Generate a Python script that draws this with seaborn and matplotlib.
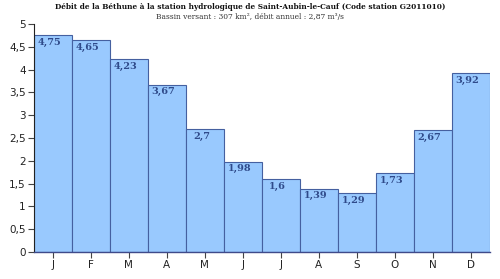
import matplotlib
matplotlib.use("Agg")
import matplotlib.pyplot as plt
import seaborn as sns
import pandas as pd

months = ["J", "F", "M", "A", "M", "J", "J", "A", "S", "O", "N", "D"]
debits = [4.75, 4.65, 4.23, 3.67, 2.7, 1.98, 1.6, 1.39, 1.29, 1.73, 2.67, 3.92]
labels = ["4,75", "4,65", "4,23", "3,67", "2,7", "1,98", "1,6", "1,39", "1,29", "1,73", "2,67", "3,92"]
yticks = [0, 0.5, 1, 1.5, 2, 2.5, 3, 3.5, 4, 4.5, 5]
ytick_labels = ["0", "0,5", "1", "1,5", "2", "2,5", "3", "3,5", "4", "4,5", "5"]
title = "Débit de la Béthune à la station hydrologique de Saint-Aubin-le-Cauf (Code station G2011010)"
subtitle = "Bassin versant : 307 km², débit annuel : 2,87 m³/s"

sns.set_style("white")
plt.rcParams['font.family'] = ['DejaVu Sans']

df = pd.DataFrame({"idx": list(range(12)), "debit": debits})

fig = plt.figure(figsize=(5, 2.79), dpi=100)
ax = fig.add_axes([0.068, 0.097, 0.911, 0.817])
sns.barplot(data=df, x="idx", y="debit", width=1.0, color="#99c9fe", saturation=1,
            edgecolor="#4560a0", linewidth=0.8, ax=ax)

ax.set_ylim(0, 5)
ax.set_xlim(-0.5, 11.5)
ax.set_yticks(yticks)
ax.set_yticklabels(ytick_labels)
ax.set_xticks(range(12))
ax.set_xticklabels(months)
ax.set_xlabel("")
ax.set_ylabel("")
for s in ["top", "right"]:
    ax.spines[s].set_visible(False)
ax.spines["left"].set_color("#222222")
ax.spines["left"].set_linewidth(0.8)
ax.spines["bottom"].set_color("#3f4a8a")
ax.spines["bottom"].set_linewidth(1.0)
ax.tick_params(axis="both", which="both", direction="out", length=4, width=0.8,
               color="#444444", labelsize=7.5, labelcolor="#222222", pad=2,
               left=True, bottom=True)

for i, (v, lab) in enumerate(zip(debits, labels)):
    ax.text(i - 0.09, v - 0.06, lab, ha="center", va="top", fontsize=7, fontweight="bold",
            family="DejaVu Serif", color="#2f4a8a")

fig.text(0.5, 0.99, title, ha="center", va="top", fontsize=5.3, fontweight="bold",
         family="DejaVu Serif", color="#111111")
fig.text(0.5, 0.955, subtitle, ha="center", va="top", fontsize=5.4,
         family="DejaVu Serif", color="#333333")

fig.savefig("out.png", dpi=100)
